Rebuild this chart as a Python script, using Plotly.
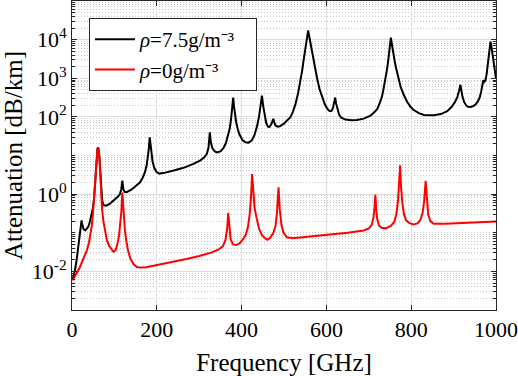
import plotly.graph_objects as go

# frequencies [GHz] and attenuation [dB/km]
freq_wet = [1, 4, 7, 11, 15, 18, 20, 21.5, 22.5, 23.5, 25, 27, 31, 35, 38, 42, 46, 49, 52,
            54, 56, 58, 60, 61.5, 63, 64.5, 66, 67.5, 69, 71, 74, 80, 88, 100, 108, 113,
            116, 118.75, 121, 124, 129, 140, 150, 160, 167, 172, 176, 179, 181, 183.3, 185,
            187, 190, 194, 199, 206, 220, 240, 263, 285, 302, 312, 318, 322, 325, 327.5,
            331, 336, 342, 350, 357, 363, 368, 372, 375, 378, 380.2, 382, 384, 387, 391,
            395, 402, 409, 416, 424, 430, 436, 441, 445, 448, 451, 454, 458, 462, 466, 470,
            473, 475, 477, 480, 485, 490, 499, 508, 515, 521, 527, 533, 539, 543, 546, 549,
            552, 554, 556, 557, 558.5, 560.5, 563, 566, 570, 574, 578, 584, 590, 596, 601,
            606, 610, 613, 616, 618.5, 620.7, 623, 626, 630, 635, 645, 660, 672, 688, 704,
            714, 720, 726, 731, 735, 739, 743, 746, 749, 751, 752, 753.5, 755.5, 758, 761,
            765, 770, 775, 782, 790, 798, 806, 818, 830, 853, 870, 885, 895, 903, 909, 913,
            916, 918.5, 921, 925, 930, 934, 940, 946, 952, 958, 962, 965, 967.5, 970, 972,
            975, 978, 981, 983.5, 985.5, 987, 989, 991, 994, 997, 1000]
att_wet = [0.0059, 0.0075, 0.0107, 0.02, 0.043, 0.075, 0.115, 0.17, 0.21, 0.18, 0.145,
           0.125, 0.115, 0.125, 0.14, 0.19, 0.28, 0.42, 0.75, 1.5, 4.0, 10.0, 15.0, 16.2,
           14.0, 10.0, 5.5, 2.5, 1.2, 0.7, 0.52, 0.5, 0.55, 0.7, 0.85, 1.0, 1.3, 2.24,
           1.35, 1.15, 1.12, 1.3, 1.6, 2.0, 2.7, 3.7, 5.5, 9.0, 14.5, 29.5, 19.0, 11.5,
           7.0, 4.8, 3.8, 3.4, 3.6, 4.1, 4.8, 6.0, 7.4, 9.0, 11.0, 16.0, 39.8, 22.0, 15.5,
           13.0, 12.0, 12.8, 15.5, 21.0, 33.0, 50.0, 85.0, 160, 316, 190, 120, 75.0, 48.0,
           35.0, 25.0, 22.0, 21.5, 24.5, 33.0, 55.0, 100, 190, 355, 190, 110, 70.0, 56.0,
           55.0, 64.0, 78.0, 89.0, 72.0, 60.0, 56.0, 57.0, 66.0, 80.0, 98.0, 135, 214, 400,
           871, 1600, 2800, 4600, 7600, 11000, 15000, 17378, 14000, 10500, 7200, 4800,
           2800, 1600, 1000, 520, 320, 215, 170, 145, 140, 145, 180, 240, 316, 220, 155,
           115, 95.0, 85.0, 82.0, 83.0, 90.0, 107, 135, 160, 230, 330, 550, 900, 1700,
           3000, 5500, 9000, 11220, 8800, 6200, 4200, 2800, 1700, 950, 600, 380, 250, 185,
           150, 125, 112, 110, 118, 140, 180, 240, 330, 480, 676, 480, 330, 240, 195, 182,
           180, 190, 210, 260, 330, 450, 650, 891, 800, 871, 1300, 2344, 4300, 7000, 8913,
           6800, 4800, 3400, 1900, 1000]

freq_dry = [1, 6, 11, 19, 27, 35, 40, 44, 47, 50, 52, 54, 56, 58, 60, 61.5, 63, 64.5, 66,
            67.5, 69, 71, 74, 78, 82, 88, 94, 98, 103, 107, 111, 114, 116.5, 118.75, 120.5,
            122.5, 125, 128, 132, 138, 145, 153, 160, 175, 200, 231, 270, 300, 330, 346,
            356, 362, 366, 368.5, 371, 374, 380, 387, 395, 403, 410, 415, 419, 422, 424.8,
            427.5, 430.5, 435, 441, 448, 455, 461, 468, 475, 480, 483.5, 487.2, 490, 494,
            499, 507, 520, 550, 601, 650, 688, 700, 707, 711, 713.5, 715.4, 717.5, 720, 724,
            730, 740, 752, 760, 765, 769, 771.5, 773.8, 776, 779, 783, 788, 795, 805, 815,
            822, 827, 830.5, 834.1, 837, 840, 845, 853, 880, 924, 960, 1000]
att_dry = [0.0059, 0.0072, 0.0089, 0.0132, 0.022, 0.035, 0.055, 0.09, 0.16, 0.38, 0.8, 1.8,
           4.5, 10.0, 14.5, 15.8, 13.5, 9.0, 4.5, 1.8, 0.8, 0.4, 0.2, 0.1, 0.066, 0.045,
           0.035, 0.032, 0.036, 0.05, 0.085, 0.16, 0.37, 1.1, 0.45, 0.21, 0.11, 0.063,
           0.035, 0.021, 0.0155, 0.013, 0.0126, 0.0128, 0.0145, 0.0166, 0.021, 0.025,
           0.031, 0.037, 0.045, 0.065, 0.13, 0.33, 0.12, 0.068, 0.05, 0.048, 0.053, 0.067,
           0.09, 0.14, 0.3, 0.75, 3.3, 0.9, 0.45, 0.25, 0.13, 0.087, 0.072, 0.066, 0.075,
           0.1, 0.15, 0.33, 1.5, 0.4, 0.16, 0.1, 0.076, 0.072, 0.077, 0.087, 0.1, 0.115,
           0.13, 0.16, 0.25, 0.45, 0.98, 0.4, 0.22, 0.155, 0.135, 0.13, 0.15, 0.19, 0.3,
           0.7, 1.6, 5.6, 1.6, 0.6, 0.3, 0.21, 0.18, 0.165, 0.175, 0.22, 0.33, 0.65, 2.2,
           0.6, 0.3, 0.2, 0.17, 0.17, 0.178, 0.185, 0.195]

x_ticks = [0, 200, 400, 600, 800, 1000]
y_ticks = [1e-2, 1, 1e2, 1e3, 1e4]
y_ticktext = ['10<sup>-2</sup>', '10<sup>0</sup>', '10<sup>2</sup>', '10<sup>3</sup>', '10<sup>4</sup>']
y_minor = [m * 10.0 ** e for e in range(-3, 5) for m in range(1, 10)
           if m * 10.0 ** e not in y_ticks]

font = 'Liberation Serif'
pad = '\u2800'  # blank glyph, widens the legend box a little like the reference

fig = go.Figure()
fig.add_trace(go.Scatter(x=freq_wet, y=att_wet, mode='lines',
                         name='<i>ρ</i>=7.5g/m⁻³' + pad,
                         line=dict(color='#000000', width=2)))
fig.add_trace(go.Scatter(x=freq_dry, y=att_dry, mode='lines',
                         name='<i>ρ</i>=0g/m⁻³',
                         line=dict(color='#ff0000', width=2)))

axis_common = dict(showline=True, linecolor='#262626', linewidth=1, mirror='allticks',
                   ticks='inside', ticklen=5, tickcolor='#262626', automargin=False,
                   showgrid=True, gridcolor='#dedede', gridwidth=1, zeroline=False,
                   tickfont=dict(family=font, size=22, color='#000000'))

fig.update_xaxes(range=[0, 1000], tickvals=x_ticks,
                 title=dict(text='Frequency [GHz]', font=dict(family=font, size=25, color='#000000'),
                            standoff=13),
                 **axis_common)
fig.update_yaxes(type='log', range=[-3, 5], tickvals=y_ticks, ticktext=y_ticktext,
                 title=dict(text='Attenuation [dB/km]', font=dict(family=font, size=25, color='#000000'),
                            standoff=5),
                 minor=dict(tickvals=y_minor, ticks='inside', ticklen=3, tickcolor='#262626',
                            showgrid=True, gridcolor='#c4c4c4', griddash='1px,2px', gridwidth=1),
                 **axis_common)

fig.update_layout(
    width=518, height=376,
    margin=dict(l=72, r=22, t=1, b=66),
    paper_bgcolor='white', plot_bgcolor='white',
    font=dict(family=font, size=21, color='#000000'),
    showlegend=True,
    legend=dict(x=0.04, y=0.945, xanchor='left', yanchor='top',
                bgcolor='white', bordercolor='#262626', borderwidth=1,
                font=dict(family=font, size=21, color='#000000'),
                tracegroupgap=0, itemwidth=40),
)

# the page body has a default 8px margin; drop it so the figure sits at the corner
fig.write_html('out.html', config={'displayModeBar': False},
               post_script="document.body.style.margin='0';")
